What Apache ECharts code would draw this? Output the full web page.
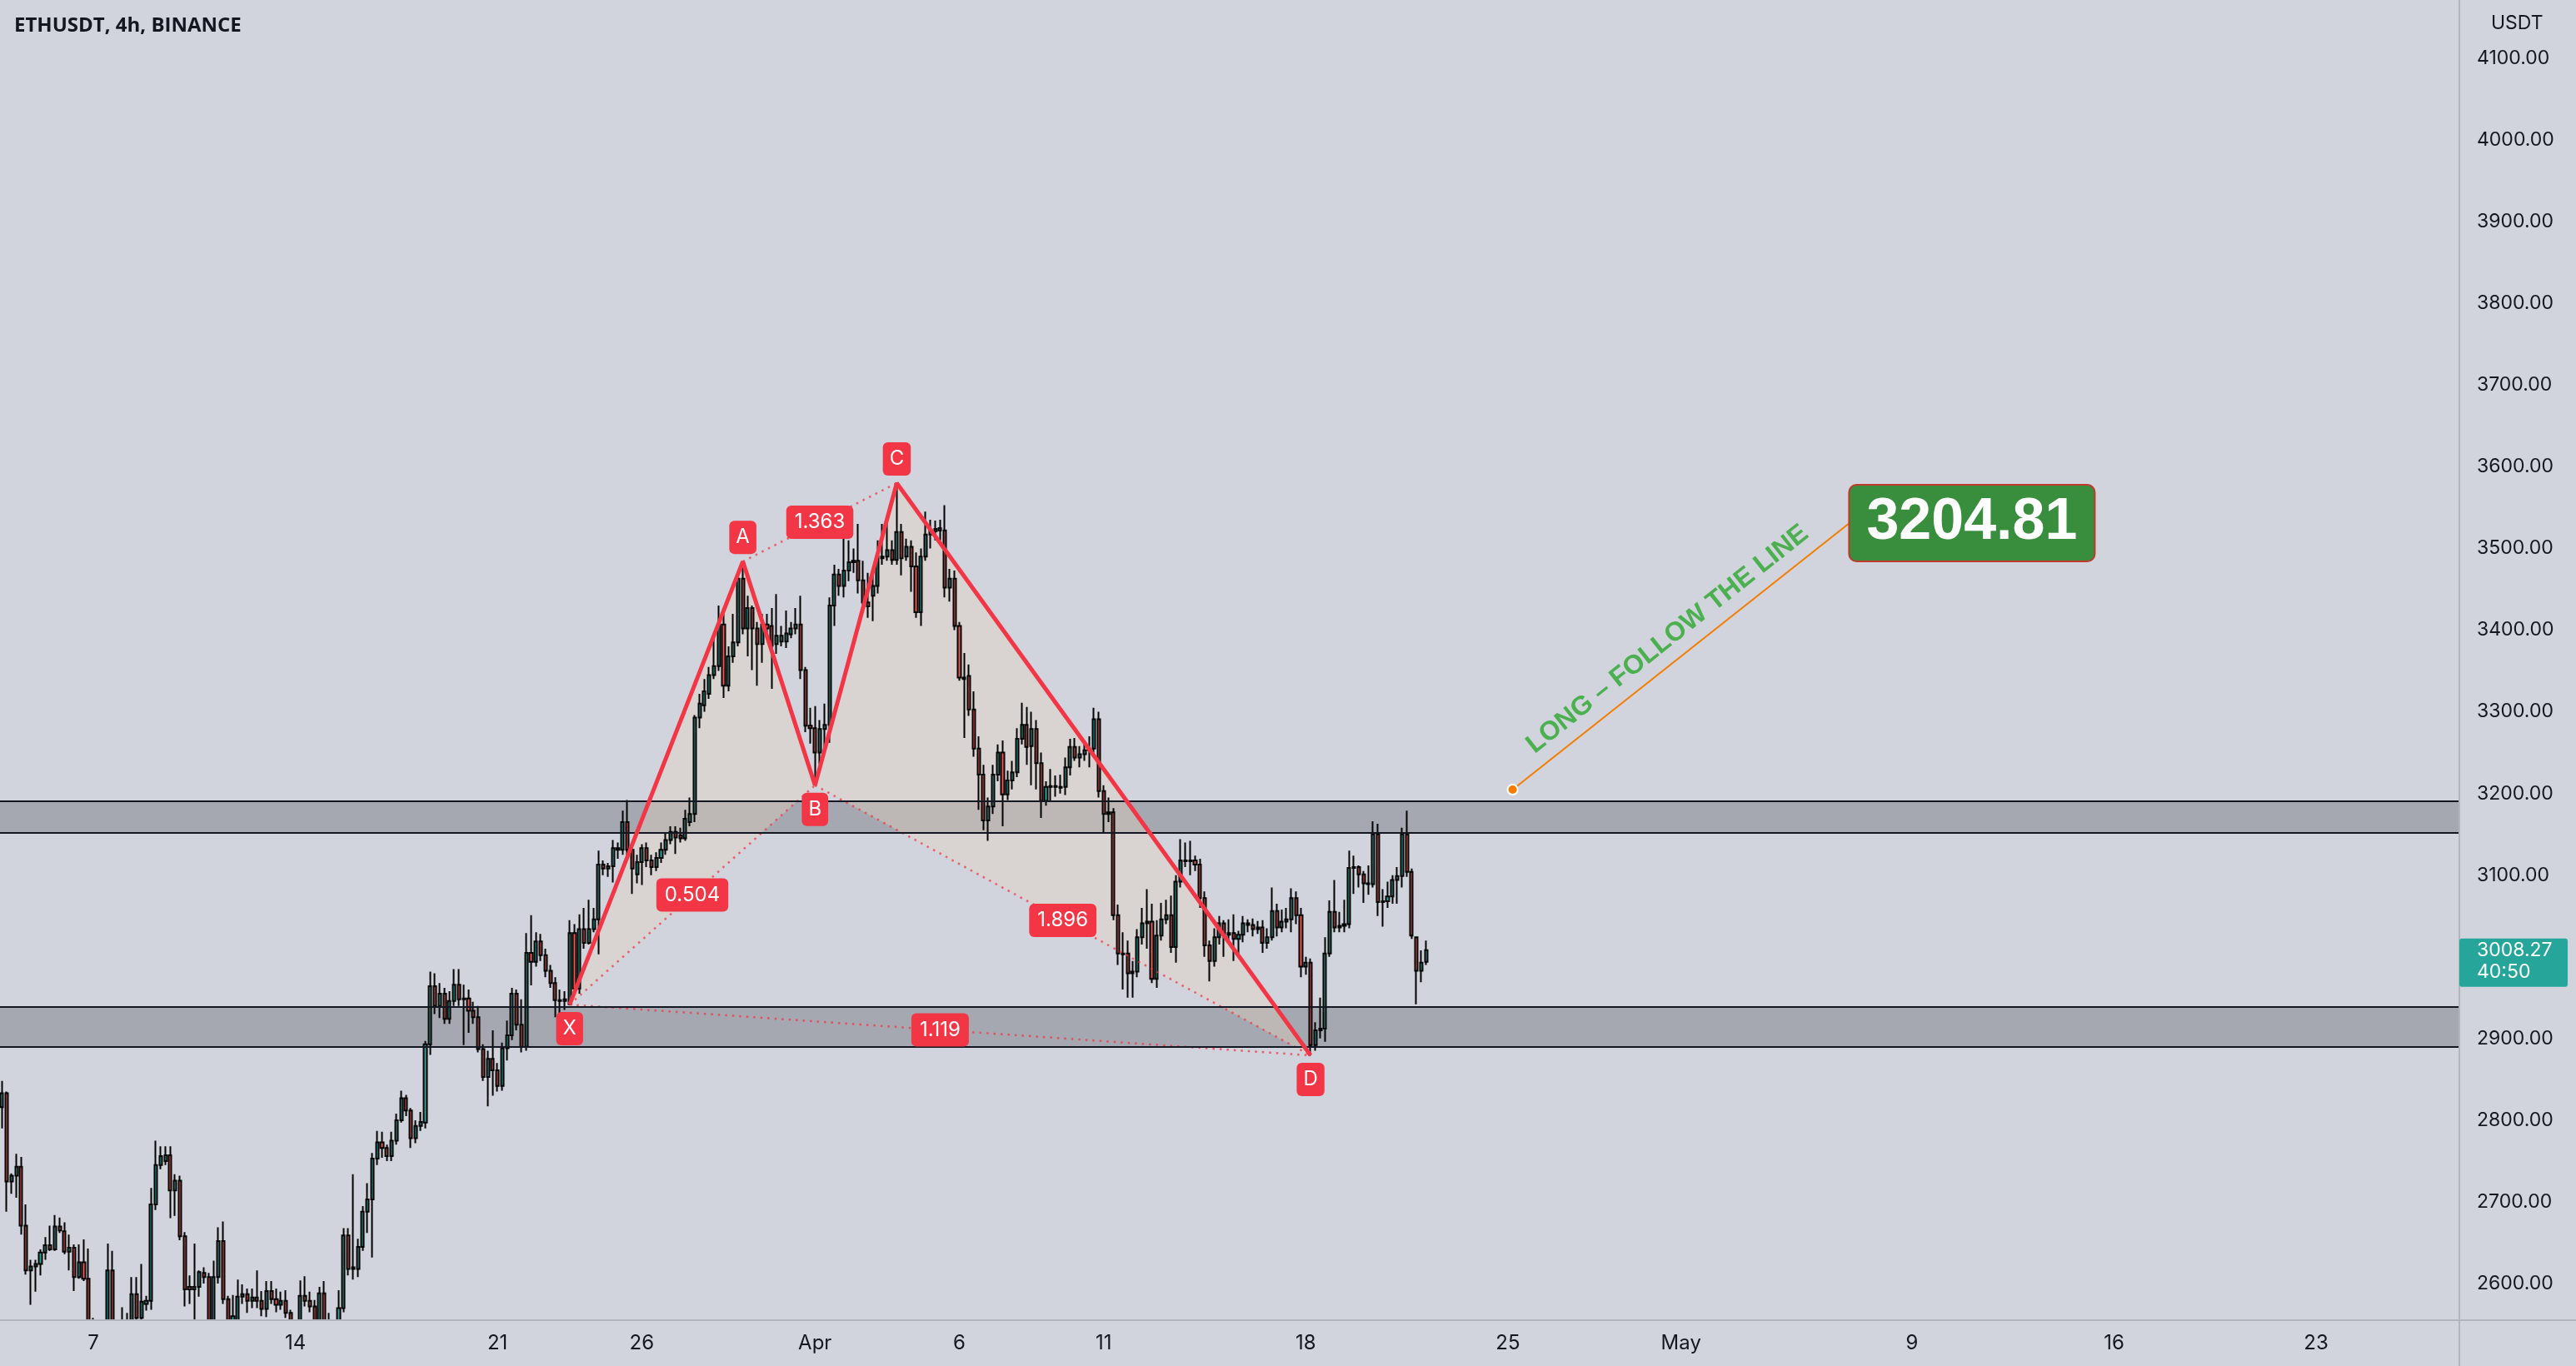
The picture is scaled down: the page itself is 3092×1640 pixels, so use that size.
<!DOCTYPE html>
<html><head><meta charset="utf-8">
<script src="https://cdn.jsdelivr.net/npm/echarts@6/dist/echarts.min.js"></script>
<style>html,body{margin:0;padding:0;background:#d1d4dc;}#c{width:3092px;height:1640px;}</style>
</head><body><div id="c"></div>
<script>
// ---------- data ----------
const chartTitle = 'ETHUSDT, 4h, BINANCE';
const currency = 'USDT';
const firstCandle = '2022-03-03T20:00:00Z';
const candleHours = 4;
// [open, high, low, close] per 4h candle
const ohlc = [
[2816,2848,2790,2833],[2833,2835,2688,2725],[2725,2735,2710,2732],[2732,2759,2705,2743],[2743,2755,2660,2671],
[2671,2697,2611,2616],[2616,2629,2574,2621],[2621,2629,2590,2624],[2624,2642,2610,2638],[2638,2657,2629,2647],
[2647,2671,2640,2642],[2642,2684,2640,2670],[2670,2681,2662,2665],[2664,2675,2636,2639],[2639,2660,2616,2644],
[2644,2648,2591,2608],[2608,2648,2606,2626],[2626,2654,2603,2606],[2606,2643,2530,2545],[2545,2558,2500,2530],
[2530,2545,2490,2520],[2520,2552,2505,2540],[2540,2649,2535,2616],[2616,2640,2530,2545],[2545,2552,2510,2535],
[2535,2571,2515,2540],[2540,2564,2520,2548],[2548,2608,2540,2587],[2587,2608,2545,2558],[2558,2624,2550,2578],
[2575,2585,2567,2579],[2579,2717,2568,2697],[2697,2775,2690,2745],[2745,2768,2740,2756],[2750,2768,2745,2757],
[2757,2768,2680,2714],[2714,2734,2683,2726],[2726,2732,2653,2658],[2658,2663,2572,2593],[2596,2610,2575,2593],
[2593,2649,2555,2596],[2596,2616,2584,2614],[2613,2620,2600,2608],[2608,2613,2540,2550],[2550,2628,2540,2608],
[2608,2669,2600,2652],[2652,2676,2575,2581],[2581,2585,2535,2550],[2550,2586,2540,2560],[2550,2605,2545,2584],
[2584,2599,2575,2587],[2587,2594,2564,2579],[2579,2594,2570,2583],[2583,2616,2570,2579],[2579,2591,2560,2569],
[2569,2603,2559,2591],[2591,2603,2575,2581],[2581,2594,2565,2574],[2574,2590,2568,2579],[2579,2592,2558,2564],
[2564,2568,2540,2550],[2550,2554,2530,2545],[2545,2604,2540,2585],[2585,2609,2572,2579],[2579,2590,2565,2572],
[2572,2580,2540,2548],[2548,2596,2540,2588],[2588,2603,2540,2550],[2550,2564,2530,2545],[2545,2553,2535,2548],
[2548,2592,2540,2570],[2570,2668,2565,2659],[2659,2668,2610,2618],[2618,2734,2605,2620],[2618,2655,2608,2645],
[2645,2695,2640,2688],[2688,2723,2662,2703],[2703,2760,2632,2753],[2753,2787,2745,2773],[2773,2786,2754,2766],
[2766,2770,2750,2756],[2756,2786,2750,2775],[2775,2808,2770,2800],[2800,2836,2797,2827],[2827,2831,2805,2812],
[2812,2815,2766,2778],
[2778,2800,2772,2793],[2793,2810,2787,2798],[2797,2897,2790,2893],[2893,2982,2880,2964],[2964,2980,2930,2940],
[2940,2968,2925,2955],[2955,2962,2918,2924],[2924,2958,2918,2946],[2946,2985,2940,2966],[2966,2985,2940,2948],
[2948,2966,2892,2949],[2949,2960,2907,2934],[2934,2945,2918,2926],[2926,2940,2883,2887],[2887,2893,2848,2853],
[2853,2885,2817,2875],[2875,2910,2830,2861],[2861,2870,2835,2842],[2842,2895,2836,2888],[2888,2922,2873,2904],
[2904,2962,2898,2955],[2955,2960,2910,2917],[2917,2948,2883,2890],[2890,3029,2885,3005],[3005,3051,2965,2994],
[2994,3030,2988,3019],[3019,3028,2995,3002],[3002,3010,2975,2983],[2983,2990,2962,2968],[2968,2975,2926,2947],
[2947,2960,2920,2946],[2946,2958,2935,2948],[2942,3045,2941,3029],[3029,3040,2955,2961],[2961,3052,2955,3034],
[3034,3060,3010,3017],[3017,3070,3015,3034],[3034,3060,3030,3046],[3046,3130,3003,3113],[3113,3118,3100,3108],
[3108,3115,3098,3111],[3111,3143,3091,3133],[3133,3140,3120,3131],
[3131,3179,3125,3165],[3165,3192,3120,3131],[3131,3135,3077,3108],[3101,3125,3090,3116],[3116,3138,3088,3133],
[3133,3140,3110,3118],[3118,3125,3100,3110],[3110,3128,3105,3121],[3121,3140,3115,3131],[3131,3152,3125,3143],
[3143,3160,3138,3153],[3153,3160,3126,3146],[3149,3158,3140,3145],[3145,3180,3142,3169],[3165,3195,3160,3175],
[3175,3296,3165,3293],[3293,3322,3280,3310],[3308,3340,3300,3325],[3322,3355,3316,3345],[3345,3390,3340,3356],
[3356,3430,3350,3407],[3407,3424,3317,3332],[3332,3380,3325,3368],[3368,3420,3360,3385],[3385,3470,3380,3463],
[3463,3484,3395,3402],[3402,3442,3368,3427],[3427,3430,3351,3402],[3402,3410,3332,3383],[3383,3420,3360,3407],
[3407,3420,3395,3402],[3405,3427,3328,3381],[3383,3444,3371,3393],[3386,3405,3380,3393],[3386,3424,3378,3396],
[3395,3410,3390,3402],[3402,3427,3395,3407],[3407,3442,3340,3351],[3351,3355,3275,3283],[3283,3305,3261,3280],
[3280,3307,3210,3250],[3250,3290,3236,3279],[3279,3310,3255,3284],[3284,3440,3262,3430],[3430,3480,3405,3468],
[3468,3475,3442,3454],[3454,3522,3440,3473],[3473,3510,3460,3483],[3483,3500,3470,3485],[3485,3530,3445,3461],
[3461,3485,3431,3434],[3434,3470,3415,3429],[3442,3470,3411,3454],[3454,3510,3445,3490],[3488,3530,3480,3490],
[3490,3530,3485,3498],[3498,3510,3480,3486],[3486,3580,3480,3520],[3520,3530,3467,3488],[3490,3512,3485,3502],
[3502,3510,3447,3478],[3478,3495,3415,3422],[3422,3500,3405,3490],[3490,3545,3485,3517],[3517,3535,3500,3522],
[3524,3534,3510,3521],[3522,3535,3510,3525],[3522,3553,3440,3452],[3452,3475,3435,3463],[3463,3473,3400,3405],
[3405,3410,3338,3342],[3342,3372,3268,3340],[3344,3358,3295,3303],[3303,3325,3245,3255],[3255,3270,3180,3223],
[3223,3235,3155,3167],[3167,3195,3142,3184],[3184,3235,3175,3223],[3223,3260,3215,3250],[3250,3265,3160,3199],
[3199,3228,3192,3216],[3216,3240,3205,3226],[3226,3280,3220,3267],[3267,3311,3260,3284],[3284,3306,3235,3257],
[3258,3300,3210,3279],[3279,3290,3205,3237],[3237,3250,3170,3191],[3191,3215,3185,3208],[3208,3230,3190,3209],
[3209,3222,3196,3208],[3208,3223,3200,3207],[3208,3244,3198,3232],[3232,3267,3222,3257],[3257,3268,3240,3244],
[3244,3258,3232,3248],[3248,3262,3240,3253],[3253,3270,3232,3255],[3255,3305,3250,3291],[3291,3300,3195,3203],
[3203,3210,3151,3175],[3175,3195,3165,3177],[3177,3182,3045,3051],[3051,3064,2990,3004],[3004,3030,2960,3003],
[3004,3020,2950,2980],[2980,2995,2950,2982],[2982,3034,2975,3024],[3024,3060,3015,3041],[3041,3083,3010,3043],
[3043,3065,2968,2973],[2973,3045,2962,3026],[3026,3066,3020,3046],[3046,3070,3040,3051],[3051,3075,3005,3012],
[3012,3100,2993,3092],[3092,3144,3085,3118],[3118,3140,3110,3117],[3117,3142,3100,3118],[3118,3124,3105,3113],
[3113,3120,3060,3072],[3072,3080,3000,3014],[3014,3020,2970,2995],[2995,3035,2988,3024],[3024,3050,3015,3041],
[3041,3045,3000,3027],[3027,3046,3020,3029],[3029,3052,2995,3022],[3022,3032,3000,3027],[3027,3050,3018,3041],
[3041,3046,3030,3039],[3039,3047,3025,3034],[3034,3044,3028,3036],[3036,3045,3005,3017],[3017,3035,3010,3024],
[3024,3085,3020,3056],[3056,3065,3025,3036],[3036,3058,3030,3043],[3043,3060,3035,3046],[3046,3084,3030,3072],
[3072,3080,3040,3051],[3051,3060,2975,2988],[2988,3000,2978,2993],[2993,2998,2879,2892],[2892,2920,2885,2910],
[2910,2950,2900,2912],[2912,3024,2896,3004],[3004,3069,3000,3055],[3055,3094,3030,3036],[3036,3055,3030,3038],
[3038,3070,3030,3040],[3040,3130,3035,3109],[3109,3124,3077,3110],[3110,3112,3085,3101],[3101,3105,3066,3090],
[3090,3112,3076,3089],[3089,3166,3085,3150],[3150,3163,3050,3067],[3067,3083,3037,3068],[3068,3092,3060,3074],
[3074,3100,3065,3094],[3094,3110,3065,3099],[3099,3158,3085,3150],[3150,3179,3098,3104],[3104,3108,3022,3026],
[3024,3025,2942,2983],[2983,3008,2969,2993],[2994,3020,2990,3008.27]
];
const yTicks = [2600,2700,2800,2900,3000,3100,3200,3300,3400,3500,3600,3700,3800,3900,4000,4100];
const xTickDates = ['2022-03-07','2022-03-14','2022-03-21','2022-03-26','2022-04-01','2022-04-06','2022-04-11','2022-04-18','2022-04-25','2022-05-01','2022-05-09','2022-05-16','2022-05-23'];
const monthNames = ['Jan','Feb','Mar','Apr','May','Jun','Jul','Aug','Sep','Oct','Nov','Dec'];
const zones = [[2889.6, 2938.6], [3151.7, 3190.4]];
const patternNames = ['X','A','B','C','D'];
const patternTimes = ['2022-03-23T12:00:00Z','2022-03-29T12:00:00Z','2022-04-01T00:00:00Z','2022-04-03T20:00:00Z','2022-04-18T04:00:00Z'];
const patternPrices = [2941.6, 3484, 3210, 3580, 2879.4];
const ratioPairs = [[0,2],[1,3],[2,4],[0,4]];
const ratioTexts = ['0.504','1.363','1.896','1.119'];
const calloutTimes = ['2022-04-25T04:00:00Z','2022-05-06T20:00:00Z'];
const calloutPrices = [3204.81, 3531];
const calloutText = '3204.81';
const noteText = 'LONG \u2013 FOLLOW THE LINE';
const lastPrice = 3008.27;
const countdown = '40:50';

// ---------- helpers ----------
const EPOCH = Date.UTC(2022, 2, 1);
const toX = t => (Date.parse(t) - EPOCH) / (candleHours * 3600e3);
const x0 = toX(firstCandle);
const candleData = ohlc.map((r, k) => [x0 + k, r[0], r[3], r[2], r[1]]);
const patX = patternTimes.map(toX);
const isPeak = k => {
  const p = patternPrices[k];
  const prev = k > 0 ? patternPrices[k-1] : -Infinity;
  const next = k < patternPrices.length-1 ? patternPrices[k+1] : -Infinity;
  return p > prev && p > next;
};
const triangles = [[0,1,2],[2,3,4]];
const xTickVals = xTickDates.map(d => toX(d + 'T00:00:00Z'));
const xTickText = {};
xTickDates.forEach((d, k) => {
  const dt = new Date(d + 'T00:00:00Z');
  xTickText[Math.round(xTickVals[k])] = dt.getUTCDate() === 1 ? monthNames[dt.getUTCMonth()] : String(dt.getUTCDate());
});
const cx = calloutTimes.map(toX);
const zoneEdges = [];
zones.forEach(z => { zoneEdges.push(z[0], z[1]); });

const FONT = 'Inter, Roboto, sans-serif';
const BG = '#d1d4dc';
const HIDDEN = {color: 'rgba(0,0,0,0)', opacity: 1};
const chart = echarts.init(document.getElementById('c'), null, {width: 3092, height: 1640});

chart.setOption({
  backgroundColor: BG,
  animation: false,
  title: [
    {text: chartTitle, left: 17, top: 19, padding: 0, textStyle: {fontSize: 24, fontWeight: 'bold', color: '#131722', fontFamily: 'Open Sans, sans-serif'}},
    {text: currency, left: 2990, top: 17, padding: 0, textStyle: {fontSize: 23, fontWeight: 'normal', color: '#131722', fontFamily: FONT}}
  ],
  grid: {left: 0, right: 140, top: 0, bottom: 55, containLabel: false},
  xAxis: {
    type: 'value', min: 16.606, max: 527.77, z: 20,
    axisLine: {show: true, lineStyle: {color: '#b2b5be', width: 2}},
    axisTick: {show: false}, splitLine: {show: false},
    axisLabel: {customValues: xTickVals, formatter: v => xTickText[Math.round(v)] || '', fontSize: 24, color: '#131722', margin: 16, fontFamily: FONT}
  },
  yAxis: {
    type: 'value', position: 'right', min: 2555.2, max: 4171.4, scale: true, z: 20,
    axisLine: {show: true, lineStyle: {color: '#b2b5be', width: 2}},
    axisTick: {show: false}, splitLine: {show: false},
    axisLabel: {customValues: yTicks, formatter: v => v.toFixed(2), fontSize: 23, color: '#131722', margin: 21, fontFamily: FONT}
  },
  series: [
    {
      type: 'candlestick', name: 'ETHUSDT', z: 3, barWidth: 3.6, silent: true, clip: true,
      encode: {x: 0, y: [1, 2, 3, 4]},
      data: candleData,
      itemStyle: {color: '#26a69a', color0: '#ef5350', borderColor: '#000', borderColor0: '#000', borderWidth: 2},
      markArea: {
        silent: true,
        itemStyle: {color: '#a5a8b0', borderWidth: 0},
        data: zones.map(z => [{yAxis: z[0]}, {yAxis: z[1]}])
      },
      markLine: {
        silent: true, symbol: ['none', 'none'], animation: false,
        lineStyle: {color: '#131722', width: 2, type: 'solid'},
        label: {show: false},
        emphasis: {disabled: true},
        data: zoneEdges.map(v => ({yAxis: v}))
      }
    },
    {
      type: 'custom', z: 2, silent: true,
      data: triangles.map(t => [patX[t[0]], patternPrices[t[0]]]),
      renderItem: (params, api) => {
        const t = triangles[params.dataIndex];
        const pts = t.map(k => api.coord([patX[k], patternPrices[k]]));
        return {type: 'polygon', shape: {points: pts}, style: {fill: 'rgba(232,214,192,0.36)'}};
      }
    },
    {
      type: 'lines', coordinateSystem: 'cartesian2d', z: 4, silent: true,
      data: ratioPairs.map(([a, b]) => ({coords: [[patX[a], patternPrices[a]], [patX[b], patternPrices[b]]]})),
      lineStyle: {color: '#f23645', width: 2.5, type: [2.5, 6], opacity: 0.75}
    },
    {
      type: 'line', z: 5, silent: true, showSymbol: false, symbol: 'none',
      data: patternPrices.map((p, k) => [patX[k], p]),
      lineStyle: {color: '#f23645', width: 5}
    },
    {
      type: 'scatter', z: 7, silent: true, symbolSize: 1, itemStyle: HIDDEN,
      label: {show: true, position: 'inside', color: '#fff', fontSize: 24, fontFamily: FONT, backgroundColor: '#f23645', borderRadius: 6, padding: [7, 10], lineHeight: 26},
      data: ratioPairs.map(([a, b], k) => ({
        value: [(patX[a] + patX[b]) / 2, (patternPrices[a] + patternPrices[b]) / 2],
        label: {formatter: ratioTexts[k]}
      }))
    },
    {
      type: 'scatter', z: 7, silent: true, symbolSize: 1, itemStyle: HIDDEN,
      label: {show: true, position: 'inside', color: '#fff', fontSize: 24, fontFamily: FONT, backgroundColor: '#f23645', borderRadius: 6, padding: [7, 8], lineHeight: 26},
      data: patternNames.map((n, k) => ({
        value: [patX[k], patternPrices[k]],
        label: {formatter: n, offset: [0, isPeak(k) ? -29 : 29]}
      }))
    },
    {
      type: 'scatter', z: 8, silent: true, symbol: 'circle', symbolSize: 12,
      itemStyle: {color: '#f57c00', borderColor: '#ffffff', borderWidth: 2, opacity: 1},
      data: [[cx[0], calloutPrices[0]]],
      markLine: {
        silent: true, symbol: ['none', 'none'], animation: false,
        lineStyle: {color: '#f57c00', width: 2, type: 'solid'},
        label: {show: true, position: 'insideMiddleTop', formatter: noteText, color: '#4caf50', fontSize: 32, fontWeight: 'bold', fontFamily: 'Liberation Sans, Arial, sans-serif', distance: 10},
        emphasis: {disabled: true},
        data: [[{coord: [cx[0], calloutPrices[0]]}, {coord: [cx[1], calloutPrices[1]]}]]
      }
    },
    {
      type: 'scatter', z: 9, silent: true, symbolSize: 1, itemStyle: HIDDEN,
      label: {show: true, position: 'right', distance: 0, formatter: calloutText, color: '#fff', fontSize: 70, fontWeight: 'bold', fontFamily: 'Liberation Sans, Arial, sans-serif', backgroundColor: '#388e3c', borderColor: '#c0392b', borderWidth: 2, borderRadius: 8, padding: [10, 20], lineHeight: 70},
      data: [[cx[1], calloutPrices[1]]]
    }
  ]
});

const py = chart.convertToPixel({yAxisIndex: 0}, lastPrice);
const gridBottom = chart.convertToPixel({yAxisIndex: 0}, 2555.2);
chart.setOption({
  graphic: [
    // mask under the time scale so candles end at the plot's lower edge
    {type: 'rect', silent: true, z: 15, shape: {x: 0, y: gridBottom + 1, width: 2952, height: 1640 - gridBottom}, style: {fill: BG}},
    {type: 'line', silent: true, z: 16, shape: {x1: 2952, y1: gridBottom, x2: 2952, y2: 1640}, style: {stroke: '#b2b5be', lineWidth: 2}},
    {type: 'line', silent: true, z: 16, shape: {x1: 0, y1: gridBottom, x2: 3092, y2: gridBottom}, style: {stroke: '#b2b5be', lineWidth: 2}},
    // last-price marker on the price scale (drawn above the scale labels)
    {type: 'rect', silent: true, z: 30, shape: {x: 2952, y: py - 14, width: 130, height: 58, r: 3}, style: {fill: '#26a69a'}},
    {type: 'text', silent: true, z: 31, x: 2973, y: py, style: {text: lastPrice.toFixed(2), fill: '#ffffff', fontSize: 23, fontFamily: FONT, verticalAlign: 'middle'}},
    {type: 'text', silent: true, z: 31, x: 2973, y: py + 26, style: {text: countdown, fill: '#ffffff', fontSize: 23, fontFamily: FONT, verticalAlign: 'middle'}}
  ]
});
</script>
</body></html>
